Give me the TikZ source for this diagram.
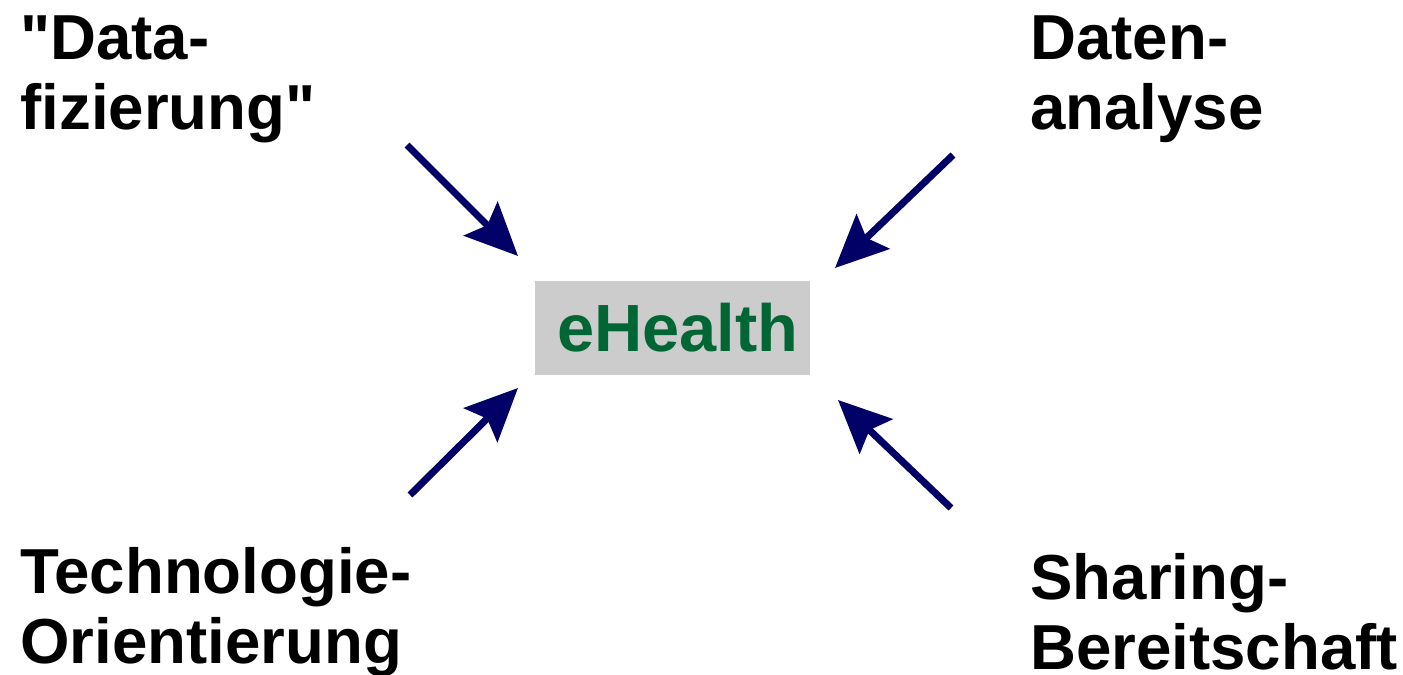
\documentclass[tikz,border=0pt]{standalone}
\usepackage{fontspec}
\setmainfont{Liberation Sans}[Ligatures=TeXOff]
\usetikzlibrary{arrows.meta}
\definecolor{navyarrow}{HTML}{000066}
\definecolor{ehgreen}{HTML}{006633}
\definecolor{ehgray}{HTML}{CCCCCC}
\tikzset{
  factor/.style={anchor=north west, inner sep=0pt, align=left,
    font=\fontsize{36.2}{39.8}\selectfont\bfseries},
  pusharrow/.style={draw=navyarrow, line width=4pt,
    -{Stealth[length=1.05cm, width=0.95cm, inset=0.18cm]}}
}
\begin{document}
\begin{tikzpicture}[x=0.02cm, y=-0.02cm]
  \useasboundingbox (0,0) rectangle (1403,675);
  \node[fill=ehgray, minimum width=5.5cm, minimum height=1.88cm, inner sep=0pt,
    text=ehgreen, font=\fontsize{38}{40}\selectfont\bfseries] (ehealth) at (672.5,328) {\hspace{6pt}eHealth};
  \node[factor] (datafiz) at (20,15) {"Data-\\fizierung"};
  \node[factor] (datenan) at (1030,15) {Daten-\\analyse};
  \node[factor] (techori) at (20,547) {Technologie-\\Orientierung};
  \node[factor] (sharing) at (1030,553) {Sharing-\\Bereitschaft};
  \coordinate (tlstart) at (407,145);
  \coordinate (tlend) at (518,256);
  \coordinate (trstart) at (953,155);
  \coordinate (trend) at (835,268);
  \coordinate (blstart) at (410,495);
  \coordinate (blend) at (518,388);
  \coordinate (brstart) at (951,508);
  \coordinate (brend) at (838,400);
  \draw[pusharrow] (tlstart) -- (tlend);
  \draw[pusharrow] (trstart) -- (trend);
  \draw[pusharrow] (blstart) -- (blend);
  \draw[pusharrow] (brstart) -- (brend);
\end{tikzpicture}
\end{document}
